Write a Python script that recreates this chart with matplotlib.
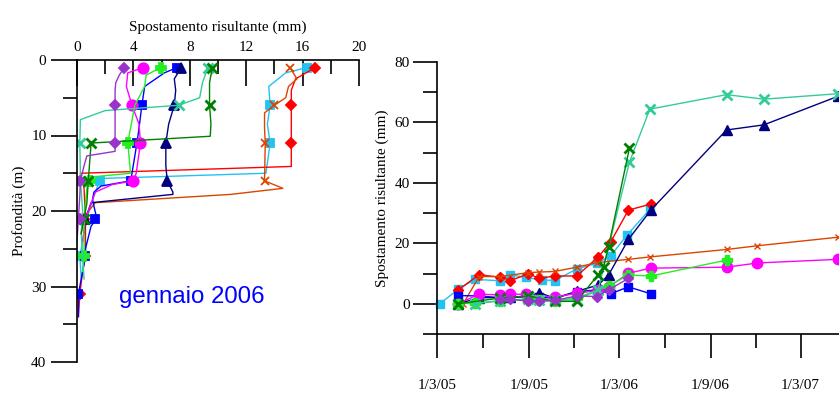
import datetime as dt
import matplotlib
matplotlib.use('Agg')
import matplotlib.pyplot as plt
import matplotlib.dates as mdates
from matplotlib.ticker import MultipleLocator, FuncFormatter

plt.rcParams['font.family'] = 'Liberation Serif'
plt.rcParams['font.size'] = 11

# ---- series styles (one per inclinometer) ----
names = ['cyan', 'red', 'orangered', 'blue', 'navy', 'magenta', 'lime', 'turq', 'dgreen', 'purple']
colors = {'cyan': '#22C2F2', 'red': '#FF0000', 'orangered': '#DD4400', 'blue': '#0000FF',
          'navy': '#000080', 'magenta': '#FF00FF', 'lime': '#22EE22', 'turq': '#33CC99',
          'dgreen': '#008000', 'purple': '#9933CC'}
markers = {'cyan': 's', 'red': 'D', 'orangered': 'x', 'blue': 's', 'navy': '^',
           'magenta': 'o', 'lime': 'P', 'turq': 'x', 'dgreen': 'x', 'purple': 'D'}
msizes = {'cyan': 6, 'red': 5, 'orangered': 6, 'blue': 6, 'navy': 7,
          'magenta': 7.5, 'lime': 7, 'turq': 7.5, 'dgreen': 7.5, 'purple': 5}

# ---- left panel: profiles, gennaio 2006 (depth m, displacement mm) ----
prof_depth = {
    'purple':    [1, 2, 3, 4, 6, 11, 12.1, 12.7, 14, 16, 18, 21, 24],
    'magenta':   [1, 1.7, 3.5, 6, 8.5, 11, 15, 16, 16.5, 17.5, 18.5, 21, 24],
    'lime':      [1, 2, 3.5, 6, 9, 11, 15, 15.5, 16, 19, 22, 26, 28],
    'blue':      [1, 1.7, 3.5, 6, 9, 11, 15, 16, 16.7, 17.5, 18.5, 21, 22, 25, 26, 29, 31, 34],
    'navy':      [1, 2.5, 4, 6, 8.5, 11, 14, 16, 17.5, 17.8, 18.9, 21, 23],
    'turq':      [1, 3, 5, 6, 6.7, 7.9, 11, 16, 20, 23, 29],
    'dgreen':    [1, 3, 6, 8.5, 10.1, 11, 16, 19, 21, 23],
    'orangered': [1, 2.5, 3.5, 5, 6, 7, 9, 11, 16, 17, 17.8, 18.9, 21, 23],
    'red':       [1, 2.5, 4, 6, 11, 14.1, 15, 17, 21, 26, 28, 31, 34],
    'cyan':      [1, 1.7, 3.5, 6, 8.5, 11, 15, 15.7, 16, 18, 21, 26, 29],
}
prof_disp = {
    'purple':    [3.35, 3.0, 2.75, 2.7, 2.7, 2.7, 2.7, 0.7, 0.5, 0.24, 0.2, 0.1, 0.0],
    'magenta':   [4.7, 3.6, 3.5, 3.9, 4.4, 4.5, 4.2, 4.0, 2.5, 1.3, 1.1, 0.6, 0.4],
    'lime':      [5.95, 4.9, 4.8, 4.1, 3.8, 3.6, 3.8, 1.0, 0.75, 0.6, 0.5, 0.5, 0.4],
    'blue':      [7.1, 6.2, 4.8, 4.6, 4.4, 4.25, 3.9, 3.8, 1.7, 1.2, 1.1, 1.4, 1.0, 0.6, 0.6, 0.3, 0.1, 0.1],
    'navy':      [7.4, 6.9, 7.0, 6.9, 6.5, 6.3, 6.3, 6.4, 6.8, 6.8, 1.0, 0.6, 0.5],
    'turq':      [9.3, 8.9, 8.7, 7.2, 2.0, 0.24, 0.2, 0.25, 0.4, 0.3, 0.5],
    'dgreen':    [9.6, 9.4, 9.4, 9.5, 9.45, 1.0, 0.8, 0.7, 0.5, 0.3],
    'orangered': [15.1, 15.6, 15.0, 14.8, 14.0, 13.3, 13.3, 13.35, 13.3, 14.6, 10.9, 1.3, 0.4, 0.3],
    'red':       [16.9, 15.5, 15.2, 15.2, 15.2, 15.2, 0.24, 0.5, 0.6, 0.6, 0.4, 0.2, 0.1],
    'cyan':      [16.3, 14.8, 13.6, 13.7, 13.5, 13.7, 13.4, 1.6, 1.6, 1.2, 0.7, 0.2, 0.3],
}
# marker points on the profiles
mark_depth = {
    'purple': [1, 6, 11, 16, 21], 'magenta': [1, 6, 11, 16], 'lime': [1, 11, 16, 26],
    'blue': [1, 6, 11, 16, 21, 26, 31], 'navy': [1, 6, 11, 16, 21], 'turq': [1, 6, 11, 16],
    'dgreen': [1, 6, 11, 16, 21], 'orangered': [1, 6, 11, 16, 21],
    'red': [1, 6, 11, 21, 26, 31], 'cyan': [1, 6, 11, 16, 26],
}
mark_disp = {
    'purple': [3.35, 2.7, 2.7, 0.24, 0.2], 'magenta': [4.7, 3.9, 4.5, 4.0], 'lime': [5.95, 3.6, 0.9, 0.5],
    'blue': [7.1, 4.6, 4.25, 3.8, 1.3, 0.6, 0.1], 'navy': [7.4, 6.9, 6.3, 6.4, 0.6], 'turq': [9.3, 7.2, 0.2, 0.25],
    'dgreen': [9.6, 9.4, 1.0, 0.8, 0.5], 'orangered': [15.1, 14.0, 13.35, 13.3, 0.4],
    'red': [16.9, 15.2, 15.2, 0.5, 0.6, 0.24], 'cyan': [16.3, 13.7, 13.7, 1.6, 0.2],
}

# ---- right panel: time histories (mm) ----
ts_dates = {
    'cyan': ['2005-03-06', '2005-04-12', '2005-05-16', '2005-07-05', '2005-07-26', '2005-08-26',
             '2005-09-27', '2005-10-23', '2005-12-06', '2006-01-15', '2006-02-12', '2006-03-18', '2006-05-02'],
    'red': ['2005-04-12', '2005-05-24', '2005-07-05', '2005-07-26', '2005-08-31', '2005-09-22',
            '2005-10-23', '2005-12-06', '2006-01-18', '2006-02-12', '2006-03-20', '2006-05-04'],
    'orangered': ['2005-04-22', '2005-05-24', '2005-07-05', '2005-08-31', '2005-09-22', '2005-10-23',
                  '2005-12-06', '2006-01-15', '2006-03-20', '2006-05-02', '2006-10-05', '2006-12-04', '2007-05-14'],
    'blue': ['2005-04-12', '2005-05-24', '2005-07-05', '2005-08-31', '2005-09-22', '2005-10-23',
             '2005-12-06', '2006-01-15', '2006-02-12', '2006-03-20', '2006-05-04'],
    'navy': ['2005-04-12', '2005-05-24', '2005-07-26', '2005-08-31', '2005-09-22', '2005-10-23',
             '2005-12-06', '2006-01-18', '2006-02-08', '2006-03-20', '2006-05-04', '2006-10-03',
             '2006-12-17', '2007-05-14'],
    'magenta': ['2005-04-12', '2005-05-24', '2005-07-05', '2005-07-26', '2005-08-26', '2005-10-23',
                '2005-12-06', '2006-01-18', '2006-02-08', '2006-03-20', '2006-05-04', '2006-10-03',
                '2006-12-04', '2007-05-14'],
    'lime': ['2005-04-12', '2005-05-16', '2005-07-05', '2005-08-31', '2005-09-22', '2005-10-23',
             '2005-12-06', '2006-02-08', '2006-03-20', '2006-05-04', '2006-10-05'],
    'turq': ['2005-05-16', '2005-07-05', '2005-08-31', '2005-09-22', '2005-10-23', '2005-12-06',
             '2006-01-18', '2006-03-22', '2006-05-02', '2006-10-03', '2006-12-17', '2007-05-14'],
    'dgreen': ['2005-04-12', '2005-07-05', '2005-08-31', '2005-10-23', '2005-12-06', '2006-01-18',
               '2006-01-29', '2006-02-08', '2006-03-22'],
    'purple': ['2005-07-05', '2005-07-26', '2005-08-31', '2005-09-22', '2005-10-23', '2005-12-06',
               '2006-01-15', '2006-02-08', '2006-03-20'],
}
ts_vals = {
    'cyan': [0, 4.8, 8.1, 7.6, 9.6, 8.7, 7.9, 7.7, 11.5, 13.4, 15.8, 22.9, 31.2],
    'red': [4.6, 9.6, 8.8, 7.7, 9.9, 8.4, 9.2, 9.2, 15.4, 20.4, 31.0, 33.0],
    'orangered': [0, 9.0, 9.0, 10.3, 10.5, 10.7, 12.1, 13.6, 14.7, 15.5, 18.0, 19.2, 22.0],
    'blue': [2.7, 2.6, 2.0, 2.4, 2.2, 1.8, 4.0, 4.6, 3.3, 5.6, 3.3],
    'navy': [0, 2.0, 2.1, 2.4, 3.7, 1.8, 4.1, 6.2, 9.5, 21.3, 31.0, 57.5, 59.2, 68.6],
    'magenta': [0, 3.2, 2.9, 3.2, 3.1, 2.2, 3.5, 4.4, 5.5, 10.1, 11.8, 12.1, 13.5, 14.7],
    'lime': [0, 0.2, 1.0, 1.3, 1.1, 1.0, 1.9, 5.9, 9.5, 9.2, 14.5],
    'turq': [0, 1.0, 1.6, 1.3, 1.1, 1.3, 4.5, 46.9, 64.4, 69.2, 67.7, 69.5],
    'dgreen': [0, 1.9, 2.6, 0.8, 0.8, 9.6, 12.3, 18.9, 51.5],
    'purple': [1.5, 1.6, 0.8, 0.8, 1.1, 2.6, 2.4, 4.6, 8.4],
}

fig = plt.figure(figsize=(8.39, 3.96), dpi=100)

# ===== left panel =====
ax1 = fig.add_axes([77 / 839, 1 - 362 / 396, 282 / 839, 302 / 396])
for n in names:
    c = colors[n]
    ax1.plot(prof_disp[n], prof_depth[n], color=c, lw=1)
    mew = 2 if n in ('turq', 'dgreen') else 1.3
    ax1.plot(mark_disp[n], mark_depth[n], ls='none', marker=markers[n], ms=msizes[n],
             color=c, mec=c, mew=mew)
ax1.set_xlim(0, 20)
ax1.set_ylim(40, 0)
ax1.xaxis.tick_top()
ax1.xaxis.set_label_position('top')
ax1.set_xlabel('Spostamento risultante (mm)', labelpad=8)
ax1.set_ylabel('Profondità (m)', labelpad=4)
ax1.xaxis.set_major_locator(MultipleLocator(4))
ax1.xaxis.set_minor_locator(MultipleLocator(2))
ax1.yaxis.set_major_locator(MultipleLocator(10))
ax1.yaxis.set_minor_locator(MultipleLocator(5))
ax1.tick_params(axis='x', which='major', direction='in', length=19, width=1.2, pad=4)
ax1.tick_params(axis='x', which='minor', direction='in', length=10, width=1.2)
ax1.tick_params(axis='y', which='major', direction='out', length=19, width=1.2, pad=3)
ax1.tick_params(axis='y', which='minor', direction='out', length=10, width=1.2)
for s in ['right', 'bottom']:
    ax1.spines[s].set_visible(False)
for s in ['left', 'top']:
    ax1.spines[s].set_linewidth(1.2)
ax1.text(0.15, 0.215, 'gennaio 2006', transform=ax1.transAxes, color='#0000FF',
         fontsize=17.3, family='Liberation Sans', va='center', ha='left')

# ===== right panel =====
ax2 = fig.add_axes([437.3 / 839, 1 - 334 / 396, (839 - 437.3) / 839, 272 / 396])
for n in names:
    c = colors[n]
    d = [dt.datetime.strptime(s, '%Y-%m-%d') for s in ts_dates[n]]
    mew = 2 if n in ('turq', 'dgreen') else 1
    ms = msizes[n] if n not in ('orangered',) else 5
    ax2.plot(d, ts_vals[n], color=c, lw=1, marker=markers[n], ms=ms, mec=c, mew=mew,
             clip_on=False)
ax2.set_xlim(dt.datetime(2005, 3, 1), dt.datetime(2007, 5, 17))
ax2.set_ylim(-10, 80)
ax2.set_ylabel('Spostamento risultante (mm)', labelpad=4)
ax2.xaxis.set_major_locator(mdates.MonthLocator(bymonth=[3, 9]))
ax2.xaxis.set_minor_locator(mdates.MonthLocator(bymonth=[6, 12]))
ax2.xaxis.set_major_formatter(FuncFormatter(
    lambda v, p: '%d/%d/%s' % (mdates.num2date(v).day, mdates.num2date(v).month,
                               mdates.num2date(v).strftime('%y'))))
ax2.yaxis.set_major_locator(MultipleLocator(20))
ax2.yaxis.set_minor_locator(MultipleLocator(10))
ax2.tick_params(axis='x', which='major', direction='out', length=17, width=1.2, pad=15.5)
ax2.tick_params(axis='x', which='minor', direction='out', length=10, width=1.2)
ax2.tick_params(axis='y', which='major', direction='out', length=17, width=1.2, pad=3)
ax2.tick_params(axis='y', which='minor', direction='out', length=10, width=1.2)
for s in ['right', 'top']:
    ax2.spines[s].set_visible(False)
for s in ['left', 'bottom']:
    ax2.spines[s].set_linewidth(1.2)

fig.savefig('out.png', dpi=100)
